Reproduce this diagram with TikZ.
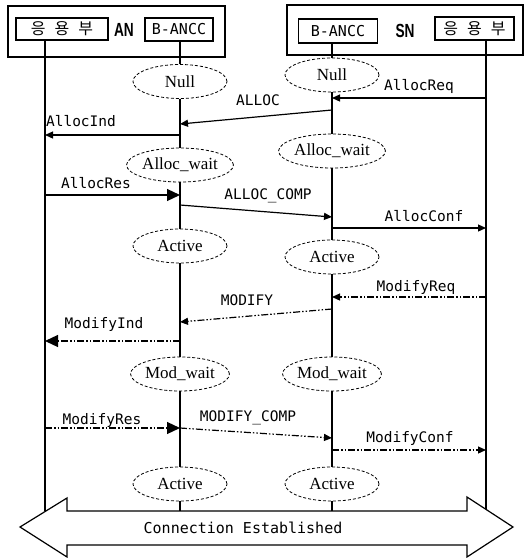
\documentclass[tikz,border=0pt]{standalone}
\usepackage{fontspec}
\usepackage{graphicx}
\setmainfont{Liberation Serif}
\newfontfamily\lblfont{DejaVu Sans Mono}
\newfontfamily\kofont{Noto Sans CJK KR}
\newfontfamily\bigfont{Liberation Sans}
\usetikzlibrary{shapes.geometric,arrows.meta}
\begin{document}
\begin{tikzpicture}[x=1pt,y=-1pt,
  frame/.style={draw,line width=1.1pt,rectangle,inner sep=0pt},
  state/.style={draw,ellipse,dashed,dash pattern=on 3pt off 2pt,line width=0.8pt,minimum width=94pt,minimum height=34pt,inner sep=0pt,font=\fontsize{17}{17}\selectfont},
  life/.style={line width=1.2pt},
  msg/.style={line width=1.2pt},
  dd/.style={line width=1.2pt,dash pattern=on 7pt off 2pt on 1.5pt off 2pt on 1.5pt off 2pt},
  hs/.style={-{Triangle[length=8pt,width=7pt]}},
  hb/.style={-{Triangle[length=13pt,width=12pt]}},
  lbl/.style={font=\lblfont\fontsize{14.5}{14.5}\selectfont,inner sep=0pt},
  side/.style={inner sep=0pt,font=\bigfont\bfseries\fontsize{19}{19}\selectfont}]
\useasboundingbox (0,0) rectangle (525,558);
% header boxes
\node[frame,minimum width=217pt,minimum height=51pt] (ANbox) at (116.5,31.5) {};
\node[frame,minimum width=92pt,minimum height=22pt] (ANapp) at (62,29) {\kofont\fontsize{16}{16}\selectfont 응\hspace{9pt}용\hspace{9pt}부};
\node[side] (ANlab) at (124,30) {\scalebox{0.72}[1]{AN}};
\node[frame,minimum width=68pt,minimum height=23pt,font=\lblfont\fontsize{15}{15}\selectfont] (ANb) at (179,29.5) {B-ANCC};
\node[frame,minimum width=236pt,minimum height=50pt] (SNbox) at (405,30) {};
\node[frame,minimum width=79pt,minimum height=24pt,font=\lblfont\fontsize{15}{15}\selectfont] (SNb) at (338,31) {B-ANCC};
\node[side] (SNlab) at (405,31) {\scalebox{0.72}[1]{SN}};
\node[frame,minimum width=79pt,minimum height=23pt] (SNapp) at (474.5,28.5) {\kofont\fontsize{16}{16}\selectfont 응\hspace{9pt}용\hspace{9pt}부};
% states
\node[state] (nullA) at (180,81.5) {Null};
\node[state] (awA) at (180,165) {Alloc\_wait};
\node[state] (acA) at (180,246) {Active};
\node[state] (mwA) at (180,374) {Mod\_wait};
\node[state] (ac2A) at (180,484) {Active};
\node[state] (nullS) at (332,75) {Null};
\node[state] (awS) at (332,151) {Alloc\_wait};
\node[state] (acS) at (332,257) {Active};
\node[state] (mwS) at (332,374) {Mod\_wait};
\node[state] (ac2S) at (332,484) {Active};
% big arrow
\draw[line width=1.2pt] (20,527) -- (67,498) -- (67,511) -- (467,511) -- (467,497) -- (513,527) -- (467,557) -- (467,545) -- (67,545) -- (67,557) -- cycle;
\node[font=\lblfont\fontsize{15}{15}\selectfont,inner sep=0pt] (conn) at (243,528) {Connection Established};
% lifelines
\coordinate (appAtop) at (45,40);
\coordinate (appAbot) at (45,511);
\coordinate (appStop) at (486,40);
\coordinate (appSbot) at (486,509);
\coordinate (endA) at (180,511);
\coordinate (endS) at (332,511);
\draw[life] (appAtop) -- (appAbot);
\draw[life] (appStop) -- (appSbot);
\draw[life] (nullA |- ANb.south) -- (nullA.north);
\draw[life] (nullA.south) -- (awA.north);
\draw[life] (awA.south) -- (acA.north);
\draw[life] (acA.south) -- (mwA.north);
\draw[life] (mwA.south) -- (ac2A.north);
\draw[life] (ac2A.south) -- (endA);
\draw[life] (nullS |- SNb.south) -- (nullS.north);
\draw[life] (nullS.south) -- (awS.north);
\draw[life] (awS.south) -- (acS.north);
\draw[life] (acS.south) -- (mwS.north);
\draw[life] (mwS.south) -- (ac2S.north);
\draw[life] (ac2S.south) -- (endS);
% message endpoints
\coordinate (m1s) at (486,98);  \coordinate (m1e) at (332,98);
\coordinate (m2s) at (332,110); \coordinate (m2e) at (180,124);
\coordinate (m3s) at (180,135); \coordinate (m3e) at (45,135);
\coordinate (m4s) at (45,195);  \coordinate (m4e) at (180,195);
\coordinate (m5s) at (180,205); \coordinate (m5e) at (332,217);
\coordinate (m6s) at (332,228); \coordinate (m6e) at (486,228);
\coordinate (m7s) at (486,297); \coordinate (m7e) at (332,297);
\coordinate (m8s) at (332,309); \coordinate (m8e) at (180,322);
\coordinate (m9s) at (180,341); \coordinate (m9e) at (45,341);
\coordinate (m10s) at (45,428); \coordinate (m10e) at (180,428);
\coordinate (m11s) at (180,428); \coordinate (m11e) at (332,438);
\coordinate (m12s) at (332,450); \coordinate (m12e) at (486,450);
% messages
\draw[msg,hs] (m1s) -- (m1e);
\draw[msg,hs] (m2s) -- (m2e);
\draw[msg,hs] (m3s) -- (m3e);
\draw[msg,hb] (m4s) -- (m4e);
\draw[msg,hs] (m5s) -- (m5e);
\draw[msg,hs] (m6s) -- (m6e);
\draw[dd,hs] (m7s) -- (m7e);
\draw[dd,hs] (m8s) -- (m8e);
\draw[dd,hb] (m9s) -- (m9e);
\draw[dd,hb] (m10s) -- (m10e);
\draw[dd,hs] (m11s) -- (m11e);
\draw[dd,hs] (m12s) -- (m12e);
% labels
\node[lbl] (l1) at (419,86) {AllocReq};
\node[lbl] (l2) at (258,100) {ALLOC};
\node[lbl] (l3) at (81,121) {AllocInd};
\node[lbl] (l4) at (96,183) {AllocRes};
\node[lbl] (l5) at (268,196) {ALLOC\_COMP};
\node[lbl] (l6) at (424,216) {AllocConf};
\node[lbl] (l7) at (416,288) {ModifyReq};
\node[lbl] (l8) at (247,300) {MODIFY};
\node[lbl] (l9) at (104,324) {ModifyInd};
\node[lbl] (l10) at (102,420) {ModifyRes};
\node[lbl] (l11) at (248,418) {MODIFY\_COMP};
\node[lbl] (l12) at (410,438) {ModifyConf};
\end{tikzpicture}
\end{document}
